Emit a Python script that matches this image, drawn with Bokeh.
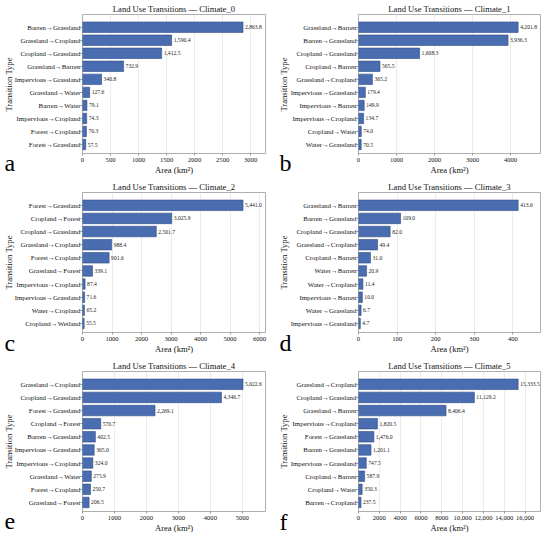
from bokeh.plotting import figure
from bokeh.layouts import gridplot
from bokeh.models import Range1d, Label, LabelSet, FixedTicker, ColumnDataSource
from bokeh.embed import file_html
from bokeh.resources import INLINE

FONT = "Liberation Serif"

climates = ["Climate_0", "Climate_1", "Climate_2", "Climate_3", "Climate_4", "Climate_5"]
panel_letters = ["a", "b", "c", "d", "e", "f"]

trans_0 = ["Barren→Grassland", "Grassland→Cropland", "Cropland→Grassland", "Grassland→Barren",
           "Impervious→Grassland", "Grassland→Water", "Barren→Water", "Impervious→Cropland",
           "Forest→Cropland", "Forest→Grassland"]
area_0 = [2863.8, 1590.4, 1412.5, 732.9, 340.8, 127.6, 79.1, 74.3, 70.3, 57.5]

trans_1 = ["Grassland→Barren", "Barren→Grassland", "Cropland→Grassland", "Cropland→Barren",
           "Grassland→Cropland", "Impervious→Grassland", "Impervious→Barren", "Impervious→Cropland",
           "Cropland→Water", "Water→Grassland"]
area_1 = [4201.8, 3936.3, 1608.3, 565.5, 365.2, 179.4, 149.9, 134.7, 74.0, 70.5]

trans_2 = ["Forest→Grassland", "Cropland→Forest", "Cropland→Grassland", "Grassland→Cropland",
           "Forest→Cropland", "Grassland→Forest", "Impervious→Cropland", "Impervious→Grassland",
           "Water→Cropland", "Cropland→Wetland"]
area_2 = [5441.0, 3025.9, 2501.7, 988.4, 901.6, 339.1, 87.4, 71.6, 65.2, 55.5]

trans_3 = ["Grassland→Barren", "Barren→Grassland", "Cropland→Grassland", "Grassland→Cropland",
           "Cropland→Barren", "Water→Barren", "Water→Cropland", "Impervious→Barren",
           "Water→Grassland", "Impervious→Grassland"]
area_3 = [413.6, 109.0, 82.0, 49.4, 31.0, 20.9, 11.4, 10.0, 6.7, 4.7]

trans_4 = ["Grassland→Cropland", "Cropland→Grassland", "Forest→Grassland", "Cropland→Forest",
           "Barren→Grassland", "Impervious→Grassland", "Impervious→Cropland", "Grassland→Water",
           "Forest→Cropland", "Grassland→Forest"]
area_4 = [5022.6, 4346.7, 2269.1, 570.7, 402.5, 365.0, 324.0, 275.9, 250.7, 206.5]

trans_5 = ["Grassland→Cropland", "Cropland→Grassland", "Grassland→Barren", "Impervious→Cropland",
           "Forest→Grassland", "Barren→Grassland", "Impervious→Grassland", "Cropland→Barren",
           "Cropland→Water", "Barren→Cropland"]
area_5 = [15333.5, 11129.2, 8406.4, 1820.5, 1476.0, 1201.1, 747.5, 587.9, 350.3, 237.5]

xticks_0 = [0, 500, 1000, 1500, 2000, 2500, 3000]
xticks_1 = [0, 1000, 2000, 3000, 4000]
xticks_2 = [0, 1000, 2000, 3000, 4000, 5000, 6000]
xticks_3 = [0, 100, 200, 300, 400]
xticks_4 = [0, 1000, 2000, 3000, 4000, 5000]
xticks_5 = [0, 2000, 4000, 6000, 8000, 10000, 12000, 14000, 16000]

all_trans = [trans_0, trans_1, trans_2, trans_3, trans_4, trans_5]
all_area = [area_0, area_1, area_2, area_3, area_4, area_5]
all_ticks = [xticks_0, xticks_1, xticks_2, xticks_3, xticks_4, xticks_5]

BAR = "#4a6db1"
EDGE = "#2c4a84"

row_heights = [178, 179, 179]
letter_mid = [162, 164, 164]
col_widths = [275, 275]
col_left = [82, 80]
col_right = [5, 6]


def make_panel(i):
    names = all_trans[i]
    vals = all_area[i]
    n = len(names)
    ys = [n - 1 - k for k in range(n)]
    row, col = divmod(i, 2)
    h = row_heights[row]
    p = figure(width=col_widths[col], height=h,
               output_backend="svg", toolbar_location=None,
               x_range=Range1d(0, max(vals) * 1.14),
               y_range=Range1d(-0.69, n - 1 + 0.975),
               title="Land Use Transitions — " + climates[i],
               min_border_left=col_left[col], min_border_right=col_right[col],
               min_border_top=0, min_border_bottom=25)
    src = ColumnDataSource(dict(y=ys, v=vals, lab=[f"{v:,.1f}" for v in vals]))
    p.hbar(y="y", right="v", left=0, height=0.8, source=src,
           fill_color=BAR, line_color=EDGE, line_width=0.6)
    p.add_layout(LabelSet(x="v", y="y", text="lab", source=src, x_offset=2,
                          text_baseline="middle", text_font=FONT,
                          text_font_size="5.6px", text_color="#222222"))

    p.title.text_font = FONT
    p.title.text_font_size = "8.6px"
    p.title.text_font_style = "normal"
    p.title.align = "center"
    p.title.text_color = "#111111"
    p.title.standoff = 2

    p.yaxis.ticker = FixedTicker(ticks=ys)
    p.yaxis.major_label_overrides = {y: nm for y, nm in zip(ys, names)}
    p.xaxis.ticker = FixedTicker(ticks=all_ticks[i])
    p.xaxis.major_label_overrides = {t: (f"{t:,}" if t >= 10000 else str(t)) for t in all_ticks[i]}
    p.xaxis.axis_label = "Area (km²)"
    for ax in (p.xaxis[0], p.yaxis[0]):
        ax.axis_label_text_font = FONT
        ax.axis_label_text_font_size = "8.6px"
        ax.axis_label_text_font_style = "normal"
        ax.axis_label_text_color = "#111111"
        ax.major_label_text_font = FONT
        ax.major_label_text_color = "#111111"
        ax.minor_tick_line_color = None
        ax.major_tick_line_color = "#555555"
        ax.major_tick_line_width = 0.6
        ax.major_tick_in = 0
        ax.major_tick_out = 2
        ax.axis_line_color = None
        ax.axis_label_standoff = 0
    p.yaxis.major_label_standoff = 0
    p.xaxis.major_label_standoff = 2
    p.yaxis.major_label_text_font_size = "6.9px"
    p.xaxis.major_label_text_font_size = "6.6px"

    p.ygrid.visible = False
    p.xgrid.ticker = FixedTicker(ticks=all_ticks[i])
    p.xgrid.grid_line_color = "#e4e4e4"
    p.xgrid.grid_line_width = 0.7
    p.outline_line_color = "#9a9a9a"
    p.outline_line_width = 0.8
    p.background_fill_color = "white"
    p.border_fill_color = "white"

    # panel letter and y-axis title drawn in canvas pixels from side panels (not clipped)
    p.add_layout(Label(x=4, y=letter_mid[row], x_units="canvas", y_units="canvas",
                       text=panel_letters[i], text_font=FONT, text_font_size="24px",
                       text_color="#000000", text_baseline="middle"), "left")
    p.add_layout(Label(x=8, y=84, x_units="canvas", y_units="canvas",
                       text="Transition Type", angle=90, angle_units="deg",
                       text_font=FONT, text_font_size="8.6px", text_color="#111111",
                       text_align="center", text_baseline="middle"), "right")
    return p


panels = [make_panel(i) for i in range(6)]
grid = gridplot([[panels[0], panels[1]], [panels[2], panels[3]], [panels[4], panels[5]]],
                toolbar_location=None)

open("out.html", "w").write(file_html(grid, INLINE))
